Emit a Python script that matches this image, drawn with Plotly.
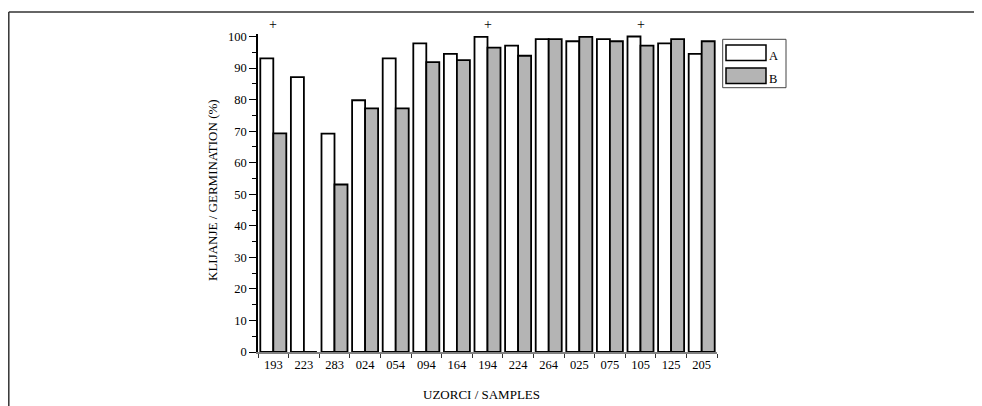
import plotly.graph_objects as go

# Data
samples = ['193', '223', '283', '024', '054', '094', '164', '194',
           '224', '264', '025', '075', '105', '125', '205']
germ_a = [93.1, 87.1, 69.2, 79.8, 93.1, 97.8, 94.5, 99.9,
          97.1, 99.2, 98.5, 99.2, 100.0, 97.8, 94.5]
germ_b = [69.3, 0, 53.1, 77.2, 77.2, 91.9, 92.5, 96.5,
          93.9, 99.2, 99.9, 98.5, 97.1, 99.2, 98.5]
marked = ['193', '194', '105']

OFF = 8  # page body margin of the browser
W, H = 982 - OFF, 406 - OFF
L, R, T, B = 258, 717, 34, 352  # plot area in window pixels
FONT = 'Liberation Serif'


def px(x):
    # window pixel -> paper x
    return (x - L) / (R - L)


def py(y):
    # window pixel -> paper y
    return (B - y) / (B - T)


def note(x, y, text, **kw):
    fig.add_annotation(x=x, y=y, text=text, showarrow=False,
                       xanchor=kw.pop('xanchor', 'center'), yanchor='middle',
                       font=dict(size=kw.pop('size', 13), color='black'), **kw)


fig = go.Figure()
fig.add_trace(go.Bar(x=samples, y=germ_a, name='A',
                     marker=dict(color='white', line=dict(color='black', width=1.8))))
fig.add_trace(go.Bar(x=samples, y=germ_b, name='B',
                     marker=dict(color='#b4b4b4', line=dict(color='black', width=1.8))))

# "+" marks above selected samples (category index, numeric-looking names get cast)
for s in marked:
    note(samples.index(s), py(25), '+', xref='x', yref='paper', size=14)

# axis titles
note(px(212), py(190), 'KLIJANJE / GERMINATION (%)', xref='paper', yref='paper', textangle=-90)
note(px(481), py(394), 'UZORCI / SAMPLES', xref='paper', yref='paper')

# legend drawn by hand (big swatches like the original)
shapes = [
    dict(type='rect', xref='paper', yref='paper', x0=px(722.7), x1=px(786), y0=py(87.7), y1=py(39.3),
         line=dict(color='#444', width=1), fillcolor='white'),
    dict(type='rect', xref='paper', yref='paper', x0=px(726), x1=px(766), y0=py(60.5), y1=py(45),
         line=dict(color='black', width=1.5), fillcolor='white'),
    dict(type='rect', xref='paper', yref='paper', x0=px(726), x1=px(766), y0=py(83.5), y1=py(68),
         line=dict(color='black', width=1.5), fillcolor='#b4b4b4'),
    # page frame (top and left edges)
    dict(type='line', xref='paper', yref='paper', x0=px(8.8), x1=px(990), y0=py(12), y1=py(12),
         line=dict(color='#333', width=1.5)),
    dict(type='line', xref='paper', yref='paper', x0=px(8.8), x1=px(8.8), y0=py(12), y1=py(420),
         line=dict(color='#333', width=1.5)),
]
for name, yc in [('A', 56), ('B', 79)]:
    note(px(766.5), py(yc), name, xref='paper', yref='paper', xanchor='left', size=12.5)

fig.update_layout(
    width=W, height=H,
    margin=dict(l=L - OFF, r=W + OFF - R, t=T - OFF, b=H + OFF - B, autoexpand=False),
    paper_bgcolor='white', plot_bgcolor='white',
    barmode='group', bargap=0.15, bargroupgap=0,
    showlegend=False,
    shapes=shapes,
    font=dict(family=FONT, size=12, color='black'),
    xaxis=dict(type='category', categoryorder='array', categoryarray=samples,
               range=[-0.5, len(samples) - 0.5], showline=True, linecolor='#808080', linewidth=1.5,
               ticks='outside', tickson='boundaries', ticklen=4, tickcolor='#333',
               showgrid=False, zeroline=False, tickangle=0, tickfont=dict(size=12.5)),
    yaxis=dict(range=[0, 100.8], showline=True, linecolor='black', linewidth=1.5,
               ticks='outside', ticklen=7, tickcolor='black', dtick=10, tick0=0,
               minor=dict(ticks='outside', ticklen=4, dtick=5, tickcolor='black'),
               showgrid=False, zeroline=False, tickfont=dict(size=12.5)),
)

fig.write_html('out.html')
